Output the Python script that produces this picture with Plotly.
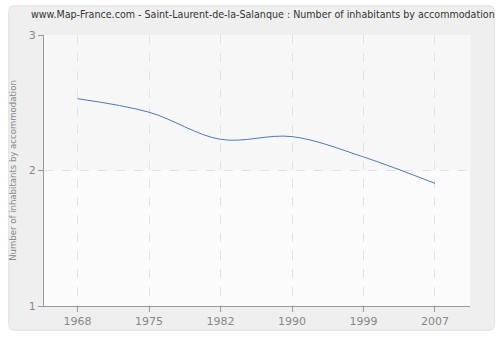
import plotly.graph_objects as go

years = ["1968", "1975", "1982", "1990", "1999", "2007"]
values = [2.53, 2.43, 2.23, 2.25, 2.10, 1.905]
y_ticks = [1, 2, 3]

W, H = 500, 340
L, R, T, B = 41, 30, 35, 31
pw, ph = W - L - R, H - T - B

def px(x):
    return (x - L) / pw

def py(y):
    return (H - B - y) / ph

fig = go.Figure()
fig.add_trace(go.Scatter(
    x=years, y=values, mode="lines",
    line=dict(color="#4d7ab5", width=1, shape="spline", smoothing=1.0),
    hoverinfo="skip", showlegend=False,
))

# rounded outer frame
x0, y0, x1, y1, r = px(5.5), py(5.5), px(494.5), py(333.5), 6
rx, ry = r / pw, r / ph
path = (f"M {x0+rx},{y0} L {x1-rx},{y0} Q {x1},{y0} {x1},{y0-ry} "
        f"L {x1},{y1+ry} Q {x1},{y1} {x1-rx},{y1} L {x0+rx},{y1} "
        f"Q {x0},{y1} {x0},{y1+ry} L {x0},{y0-ry} Q {x0},{y0} {x0+rx},{y0} Z")
shapes = [
    dict(type="path", xref="paper", yref="paper", path=path,
         fillcolor="#efefef", line=dict(color="#e0e0e0", width=1), layer="below"),
    dict(type="rect", xref="paper", yref="paper", x0=0, x1=1, y0=0, y1=1,
         fillcolor="#fbfbfb", line=dict(width=0), layer="below"),
    dict(type="rect", xref="paper", yref="y", x0=0, x1=1, y0=2, y1=3,
         fillcolor="#f7f7f7", line=dict(width=0), layer="below"),
]

fig.update_layout(
    width=W, height=H,
    margin=dict(l=L, r=R, t=T, b=B),
    paper_bgcolor="white", plot_bgcolor="rgba(0,0,0,0)",
    shapes=shapes,
    font=dict(family="DejaVu Sans, Verdana, sans-serif", size=11, color="#888888"),
    title=dict(
        text="www.Map-France.com - Saint-Laurent-de-la-Salanque : Number of inhabitants by accommodation",
        x=31 / W, xanchor="left", xref="container",
        y=1 - 14 / H, yanchor="middle",
        font=dict(family="DejaVu Sans Condensed, DejaVu Sans, sans-serif", size=10.6, color="#333333"),
    ),
    xaxis=dict(
        type="category", range=[-0.47, 5.49],
        showgrid=True, gridcolor="#e2e2e2", griddash="dash", gridwidth=1,
        showline=True, linecolor="#999999", linewidth=1,
        ticks="outside", ticklen=5, tickcolor="#999999",
        tickfont=dict(size=11, color="#888888"), zeroline=False,
    ),
    yaxis=dict(
        range=[1, 3], tickvals=y_ticks, ticktext=[str(v) for v in y_ticks],
        showgrid=True, gridcolor="#e2e2e2", griddash="dash", gridwidth=1,
        showline=True, linecolor="#999999", linewidth=1,
        ticks="outside", ticklen=5, tickcolor="#999999",
        tickfont=dict(size=11, color="#888888"), zeroline=False,
        title=dict(text="Number of inhabitants by accommodation",
                   font=dict(family="DejaVu Sans Condensed, DejaVu Sans, sans-serif",
                             size=9.5, color="#888888"), standoff=10),
    ),
)

fig.write_html("out.html")
